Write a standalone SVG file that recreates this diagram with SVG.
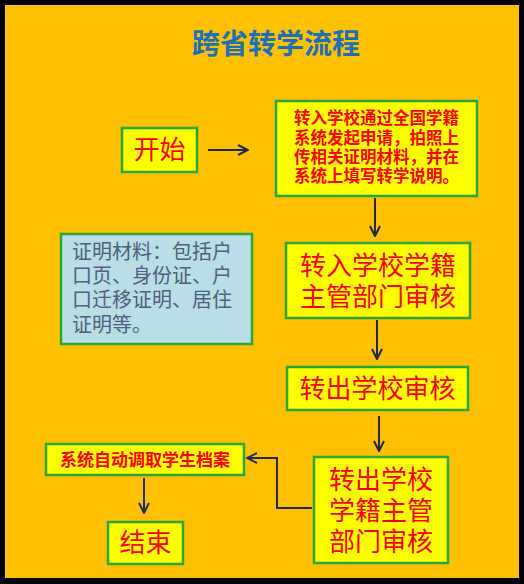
<svg xmlns="http://www.w3.org/2000/svg" width="524" height="584" viewBox="0 0 524 584">
<defs>
<style>
.box{fill:#FFFF00;stroke:#2AA836;stroke-width:2.5}
.note{fill:#B8DEE6;stroke:#2AA836;stroke-width:2.5}
.t{font-family:"Liberation Sans","Noto Sans CJK SC",sans-serif;fill:#FF0000;text-anchor:middle;dominant-baseline:central}
.b{font-weight:bold}
.n{font-family:"Liberation Sans","Noto Sans CJK SC",sans-serif;fill:#506080;font-size:20px;dominant-baseline:central}
.c{fill:none;stroke:#1E2B4A;stroke-width:2}
</style>
<marker id="ah" viewBox="0 0 12 12" refX="11" refY="6" markerWidth="12" markerHeight="12" markerUnits="userSpaceOnUse" orient="auto">
<path d="M1,1 L11,6 L1,11" fill="none" stroke="#1E2B4A" stroke-width="2"/>
</marker>
</defs>
<rect x="0" y="0" width="524" height="584" fill="#000"/>
<rect x="5" y="5" width="514" height="573" fill="#FFC000"/>
<text id="title" x="276" y="44" class="t b" style="fill:#1F6FB5;font-size:28px">跨省转学流程</text>
<g id="start"><rect class="box" x="122" y="128" width="75" height="44"/><text class="t" x="159.5" y="150" font-size="26">开始</text></g>
<g id="apply"><rect class="box" x="276" y="101" width="201" height="95"/>
<text class="t b" x="376.5" y="118" font-size="16.5">转入学校通过全国学籍</text>
<text class="t b" x="376.5" y="137.5" font-size="16.5">系统发起申请，拍照上</text>
<text class="t b" x="376.5" y="157" font-size="16.5">传相关证明材料，并在</text>
<text class="t b" x="376.5" y="176" font-size="16.5">系统上填写转学说明。</text></g>
<g id="note"><rect class="note" x="61" y="234" width="191" height="110"/>
<text class="n" x="72" y="252">证明材料：包括户</text>
<text class="n" x="72" y="276">口页、身份证、户</text>
<text class="n" x="72" y="300">口迁移证明、居住</text>
<text class="n" x="72" y="325">证明等。</text></g>
<g id="in-review"><rect class="box" x="286" y="243" width="184" height="75"/>
<text class="t" x="378" y="266" font-size="26">转入学校学籍</text>
<text class="t" x="378" y="297" font-size="26">主管部门审核</text></g>
<g id="out-school"><rect class="box" x="287" y="367" width="181" height="43"/>
<text class="t" x="377.5" y="389" font-size="26">转出学校审核</text></g>
<g id="out-review"><rect class="box" x="314" y="457" width="134" height="106"/>
<text class="t" x="381" y="480" font-size="26">转出学校</text>
<text class="t" x="381" y="511" font-size="26">学籍主管</text>
<text class="t" x="381" y="542" font-size="26">部门审核</text></g>
<g id="archive"><rect class="box" x="46" y="444" width="198" height="31"/>
<text class="t b" x="145" y="460" font-size="17">系统自动调取学生档案</text></g>
<g id="end"><rect class="box" x="108" y="522" width="75" height="42"/>
<text class="t" x="145.5" y="543" font-size="26">结束</text></g>
<g id="connectors">
<line class="c" x1="208" y1="150" x2="248" y2="150" marker-end="url(#ah)"/>
<line class="c" x1="375" y1="198" x2="375" y2="236" marker-end="url(#ah)"/>
<line class="c" x1="377" y1="320" x2="377" y2="359" marker-end="url(#ah)"/>
<line class="c" x1="379" y1="416" x2="379" y2="451" marker-end="url(#ah)"/>
<polyline class="c" points="312,508 277,508 277,458 247,458" marker-end="url(#ah)"/>
<line class="c" x1="144" y1="478" x2="144" y2="513" marker-end="url(#ah)"/>
</g>
</svg>
